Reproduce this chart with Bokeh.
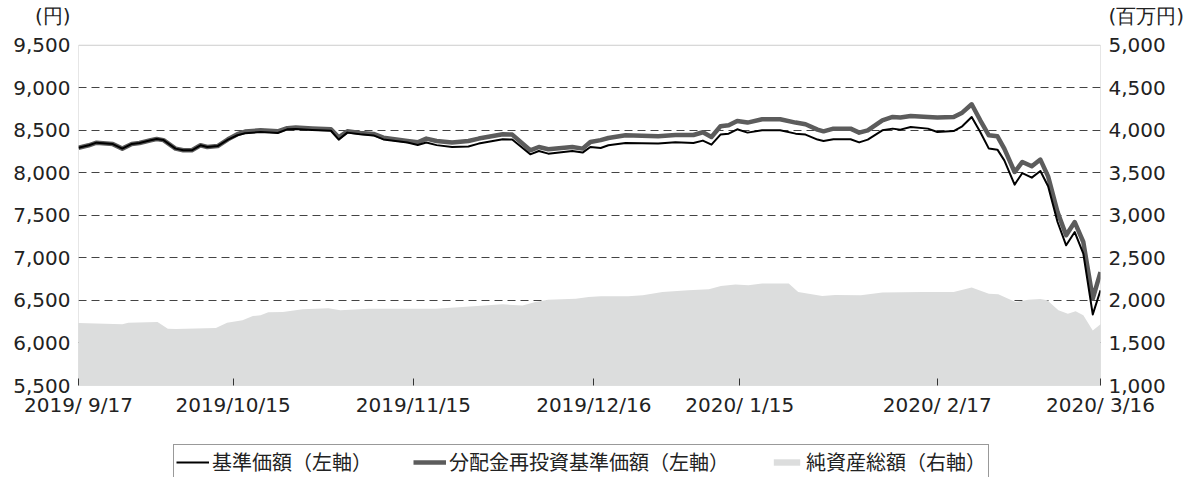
from bokeh.plotting import figure
from bokeh.layouts import column
from bokeh.models import (Range1d, LinearAxis, FixedTicker, NumeralTickFormatter,
                          Legend, LegendItem, BoxAnnotation)
from bokeh.embed import file_html
from bokeh.resources import INLINE

# x = trading-day index (0 = 2019/9/17, 119 = 2020/3/16)
tick_days = [0, 18, 39, 60, 77, 100, 119]
tick_labels = ["2019/ 9/17", "2019/10/15", "2019/11/15", "2019/12/16",
               "2020/ 1/15", "2020/ 2/17", "2020/ 3/16"]

nav_day = [0.0, 1.2, 2.1, 4.0, 5.1, 6.2, 7.1, 8.4, 9.1, 9.9, 11.3, 12.2, 13.2, 14.2,
           15.0, 16.2, 17.4, 18.5, 19.4, 21.2, 23.2, 24.3, 25.3, 27.2, 29.4, 30.3,
           31.3, 32.8, 34.35, 35.5, 38.3, 39.5, 40.5, 41.7, 43.5, 45.4, 46.6, 49.4,
           50.5, 52.6, 53.6, 54.7, 57.5, 58.7, 59.6, 60.8, 61.7, 63.7, 67.5, 69.5,
           71.6, 72.7, 73.7, 74.75, 75.7, 76.7, 77.9, 79.6, 81.7, 83.5, 84.65, 86.05,
           86.75, 87.9, 89.9, 90.9, 91.9, 93.6, 94.8, 95.7, 96.9, 98.9, 100.0, 101.9,
           102.9, 104.0, 105.0, 106.0, 107.0, 107.8, 109.0, 109.9, 111.0, 112.0,
           112.9, 114.0, 115.0, 116.0, 117.0, 118.1, 119.0]

# 基準価額 (円)
nav = [8295, 8324, 8355, 8338, 8285, 8340, 8351, 8383, 8398, 8385, 8285, 8265, 8265, 8324,
       8304, 8315, 8391, 8442, 8465, 8480, 8468, 8512, 8517, 8505, 8495, 8391,
       8473, 8453, 8440, 8393, 8356, 8328, 8356, 8326, 8304, 8309, 8344, 8395,
       8391, 8218, 8257, 8226, 8257, 8238, 8304, 8292, 8324, 8351, 8344, 8359,
       8351, 8379, 8332, 8450, 8461, 8512, 8473, 8500, 8500, 8461, 8450, 8391,
       8375, 8395, 8395, 8358, 8391, 8500, 8520, 8508, 8539, 8520, 8481, 8492,
       8547, 8657, 8481, 8285, 8273, 8147, 7862, 7998, 7944, 8022,
       7842, 7422, 7148, 7304, 7050, 6336, 6618]

# 分配金再投資基準価額 (円)
reinv = [8295, 8324, 8355, 8338, 8285, 8340, 8351, 8383, 8398, 8385, 8285, 8265, 8265, 8324,
         8304, 8315, 8395, 8455, 8485, 8500, 8488, 8525, 8532, 8522, 8512, 8418,
         8488, 8470, 8458, 8414, 8375, 8359, 8403, 8375, 8356, 8375, 8403, 8453,
         8450, 8265, 8304, 8277, 8304, 8285, 8363, 8385, 8410, 8442, 8430, 8445,
         8445, 8477, 8422, 8547, 8559, 8610, 8591, 8630, 8630, 8591, 8571, 8508,
         8488, 8520, 8520, 8473, 8500, 8618, 8657, 8650, 8669, 8657, 8650, 8657,
         8708, 8806, 8618, 8442, 8430, 8285, 8010, 8128, 8077, 8156,
         7959, 7540, 7266, 7422, 7187, 6520, 6834]

aum_day = [0.0, 5.1, 5.8, 9.2, 10.4, 11.3, 16.0, 17.3, 19.1, 20.3, 21.2, 22.1, 23.8,
           26.1, 29.1, 30.5, 33.8, 37.7, 41.6, 44.7, 49.4, 51.7, 53.2, 54.7, 57.9,
           59.4, 60.8, 64.0, 65.7, 68.0, 71.0, 73.4, 74.8, 76.5, 78.0, 79.6, 82.7,
           83.8, 86.6, 88.1, 91.1, 93.6, 98.3, 101.9, 104.0, 106.0, 107.1, 109.1,
           110.6, 112.0, 112.8, 114.1, 115.2, 116.1, 117.0, 118.1, 119.0]

# 純資産総額 (百万円)
aum = [1734, 1719, 1739, 1746, 1668, 1664, 1676, 1739, 1766, 1817, 1825, 1860, 1864,
       1895, 1907, 1884, 1903, 1903, 1903, 1922, 1954, 1942, 1981, 2009, 2021,
       2040, 2048, 2048, 2060, 2099, 2119, 2131, 2170, 2186, 2178, 2198, 2198,
       2099, 2052, 2064, 2060, 2092, 2099, 2099, 2151, 2080, 2072, 1981,
       2009, 2017, 2001, 1884, 1845, 1872, 1825, 1648, 1719]

left_ticks = [5500, 6000, 6500, 7000, 7500, 8000, 8500, 9000, 9500]
right_ticks = [1000, 1500, 2000, 2500, 3000, 3500, 4000, 4500, 5000]
left_unit, right_unit = "(円)", "(百万円)"
# the unit captions sit on an extra tick just above the chart box
left_unit_pos, right_unit_pos = 9850, 5350

labels = ["基準価額（左軸）", "分配金再投資基準価額（左軸）", "純資産総額（右軸）"]

TXT = "#222222"
NUMFONT = "DejaVu Sans"
JPFONT = "Noto Sans CJK JP"
AREA_C, NAV_C, REINV_C = "#dcdddd", "#000000", "#5c5c5c"

p = figure(width=1201, height=440, output_backend="svg", toolbar_location=None,
           x_range=Range1d(0, 119), y_range=Range1d(left_ticks[0], left_unit_pos),
           min_border_left=78, min_border_right=101, min_border_top=15,
           min_border_bottom=55, title=None)
p.extra_y_ranges = {"right": Range1d(right_ticks[0], right_unit_pos)}
p.outline_line_color = None

p.varea(x=aum_day, y1=[right_ticks[0]] * len(aum), y2=aum,
        y_range_name="right", fill_color=AREA_C)
p.line(nav_day, reinv, line_color=REINV_C, line_width=4.5, line_join="round")
p.line(nav_day, nav, line_color=NAV_C, line_width=2, line_join="round")

# chart box (top at 9,500)
p.add_layout(BoxAnnotation(left=tick_days[0], right=tick_days[-1],
                           bottom=left_ticks[0], top=left_ticks[-1],
                           fill_alpha=0, line_color="#555555", line_width=1))

# x axis
p.xaxis.ticker = FixedTicker(ticks=tick_days)
p.xaxis.major_label_overrides = {d: t for d, t in zip(tick_days, tick_labels)}
p.xaxis.major_tick_in = 7
p.xaxis.major_tick_out = 0
p.xaxis.major_tick_line_color = "#333333"
p.xaxis.minor_tick_line_color = None
p.xaxis.axis_line_color = None
p.xaxis.major_label_standoff = 7
p.xaxis.major_label_text_font = NUMFONT
p.xaxis.major_label_text_font_size = "20px"
p.xaxis.major_label_text_color = TXT

# y axes
p.yaxis.ticker = FixedTicker(ticks=left_ticks + [left_unit_pos])
p.yaxis.formatter = NumeralTickFormatter(format="0,0")
p.yaxis.major_label_overrides = {left_unit_pos: left_unit}

ra = LinearAxis(y_range_name="right",
                ticker=FixedTicker(ticks=right_ticks + [right_unit_pos]),
                formatter=NumeralTickFormatter(format="0,0"),
                major_label_overrides={right_unit_pos: right_unit})
p.add_layout(ra, "right")

for ax in (p.yaxis[0], ra):
    ax.major_tick_in = 0
    ax.major_tick_out = 0
    ax.minor_tick_line_color = None
    ax.axis_line_color = None
    ax.major_label_standoff = 8
    ax.major_label_text_font = NUMFONT
    ax.major_label_text_font_size = "20px"
    ax.major_label_text_color = TXT

p.xgrid.grid_line_color = None
p.ygrid.ticker = FixedTicker(ticks=left_ticks[1:-1])
p.ygrid.grid_line_color = "#444444"
p.ygrid.grid_line_dash = "8 5"
p.ygrid.grid_line_width = 1

# legend strip below the chart (its series lie outside this strip's ranges,
# so only the legend samples show)
lg = figure(width=1201, height=37, output_backend="svg", toolbar_location=None,
            x_range=Range1d(0, 1), y_range=Range1d(0, 1), min_border=0,
            x_axis_type=None, y_axis_type=None, title=None)
lg.grid.visible = False
lg.outline_line_color = None
k_nav = lg.line(nav_day, nav, line_color=NAV_C, line_width=2)
k_re = lg.line(nav_day, reinv, line_color=REINV_C, line_width=4.5)
k_aum = lg.varea(x=aum_day, y1=aum, y2=aum, fill_color=AREA_C)

legend = Legend(items=[LegendItem(label=labels[0], renderers=[k_nav]),
                       LegendItem(label=labels[1], renderers=[k_re]),
                       LegendItem(label=labels[2], renderers=[k_aum])],
                location=(95, -2), orientation="horizontal",
                glyph_width=33, glyph_height=8, label_standoff=3, spacing=41,
                padding=2, margin=0,
                label_text_font=JPFONT, label_text_font_size="20px",
                label_text_color=TXT,
                border_line_color="#333333", border_line_width=1,
                background_fill_color="white", background_fill_alpha=1)
lg.add_layout(legend)

layout = column(p, lg, spacing=0)
open("out.html", "w").write(file_html(layout, INLINE))
